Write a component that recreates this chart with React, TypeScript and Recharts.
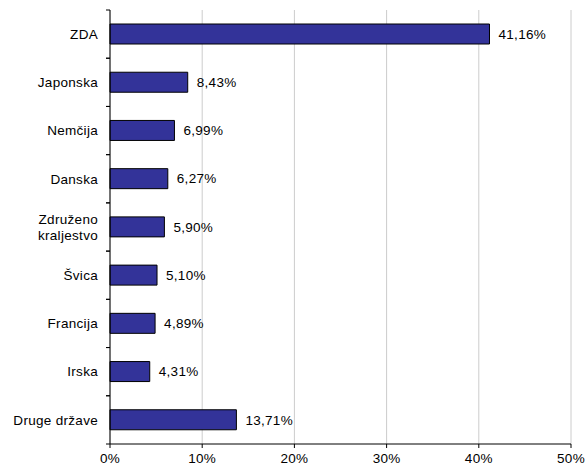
import { BarChart, Bar, XAxis, YAxis, CartesianGrid, LabelList, Text } from "recharts";

const countries = [
  "ZDA",
  "Japonska",
  "Nemčija",
  "Danska",
  "Združeno kraljestvo",
  "Švica",
  "Francija",
  "Irska",
  "Druge države",
];
const shares = [41.16, 8.43, 6.99, 6.27, 5.9, 5.1, 4.89, 4.31, 13.71];
const xTicks = [0, 10, 20, 30, 40, 50];

const FONT = '"Liberation Sans", Arial, sans-serif';
const CHART_W = 586;
const CHART_H = 466;
const TOP = 10;
const X_AXIS_H = 22;
const Y_AXIS_W = 110;
const TICK_GAP = 12;
const BAND = (CHART_H - TOP - X_AXIS_H) / countries.length;

const data = countries.map((name, i) => ({ name, value: shares[i] }));

const pct = (v: number) => `${v.toFixed(2).replace(".", ",")}%`;

// category label plus tick marks on the band edges, like the excel original
const CountryTick = (props: any) => {
  const { x, y, payload } = props;
  const axisX = x + TICK_GAP;
  return (
    <g>
      <line x1={axisX - 4} x2={axisX} y1={y - BAND / 2} y2={y - BAND / 2} stroke="#000" />
      <line x1={axisX - 4} x2={axisX} y1={y + BAND / 2} y2={y + BAND / 2} stroke="#000" />
      <Text
        x={x}
        y={y}
        width={100}
        textAnchor="end"
        verticalAnchor="middle"
        fontSize={13.5}
        fontFamily={FONT}
        letterSpacing={0.3}
        fill="#000"
        lineHeight="1.2em"
      >
        {payload.value}
      </Text>
    </g>
  );
};

export default function App() {
  return (
    <div style={{ position: "absolute", left: 0, top: 0, background: "#fff" }}>
      <BarChart
        width={CHART_W}
        height={CHART_H}
        data={data}
        layout="vertical"
        margin={{ top: TOP, right: 15, left: 0, bottom: 0 }}
        barSize={20}
      >
        <CartesianGrid horizontal={false} stroke="#cccccc" />
        <XAxis
          type="number"
          domain={[0, 50]}
          ticks={xTicks}
          tickFormatter={(v) => `${v}%`}
          height={X_AXIS_H}
          tickSize={4}
          tickMargin={5}
          stroke="#000"
          tick={{ fill: "#000", fontSize: 13.5, fontFamily: FONT, letterSpacing: 0.3 }}
        />
        <YAxis
          type="category"
          dataKey="name"
          width={Y_AXIS_W}
          tickLine={false}
          tickSize={0}
          tickMargin={TICK_GAP}
          stroke="#000"
          tick={<CountryTick />}
          interval={0}
        />
        <Bar
          dataKey="value"
          fill="#333399"
          stroke="#000"
          strokeWidth={1}
          isAnimationActive={false}
        >
          <LabelList
            dataKey="value"
            position="right"
            offset={9}
            formatter={(v: any) => pct(Number(v))}
            fill="#000"
            fontSize={13.5}
            fontFamily={FONT}
            letterSpacing={0.3}
          />
        </Bar>
      </BarChart>
    </div>
  );
}
